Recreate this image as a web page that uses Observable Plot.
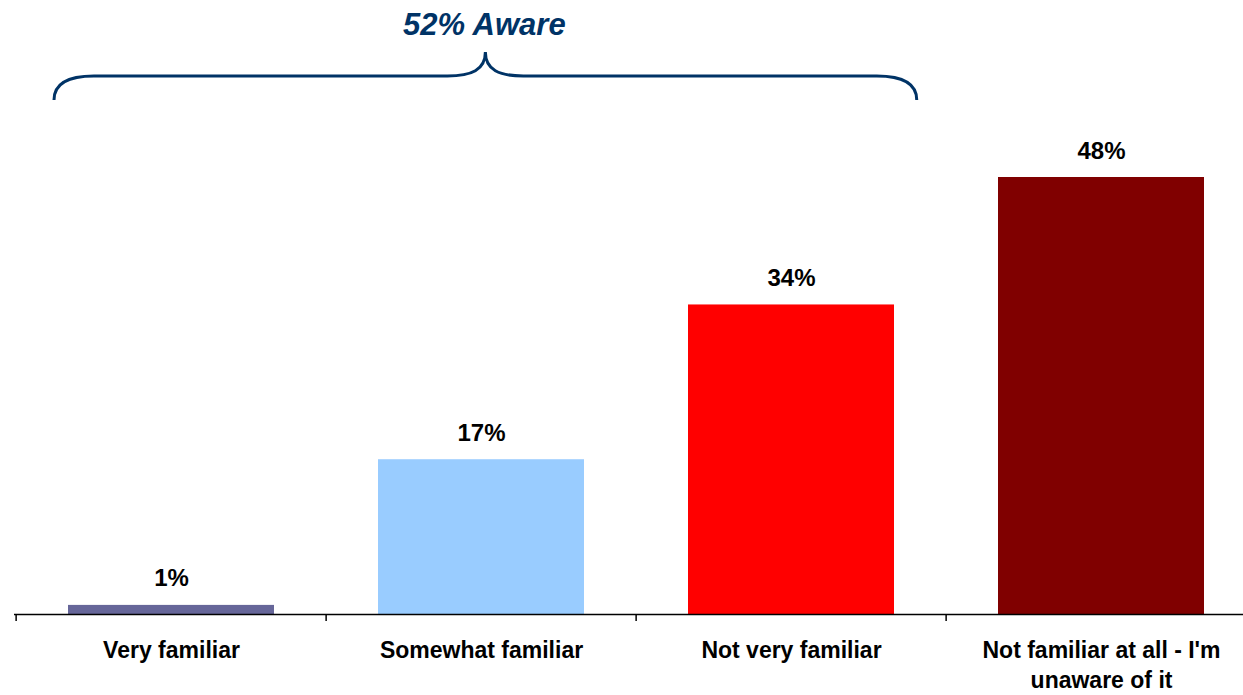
<!DOCTYPE html>
<html>
<head>
<meta charset="utf-8">
<script src="https://cdn.jsdelivr.net/npm/d3@7"></script>
<script src="https://cdn.jsdelivr.net/npm/@observablehq/plot@0.6"></script>
<style>
  html, body { margin: 0; padding: 0; background: #fff; }
  #chart svg { display: block; }
</style>
</head>
<body>
<div id="chart"></div>
<script>
const categories = ["Very familiar", "Somewhat familiar", "Not very familiar", "Not familiar at all - I'm unaware of it"];
const tickLabels = ["Very familiar", "Somewhat familiar", "Not very familiar", "Not familiar at all - I'm\nunaware of it"];
const values = [1, 17, 34, 48];
const colors = ["#666699", "#99CCFF", "#FF0000", "#800000"];
const awareLabel = "52% Aware";

const data = categories.map((c, i) => ({cat: c, label: tickLabels[i], value: values[i], color: colors[i]}));

const W = 1243, H = 695;
const xRange = [14, 1257];
const step = (xRange[1] - xRange[0]) / categories.length;
const font = "Arial, 'Liberation Sans', sans-serif";

function brace(index, scales, values, dimensions) {
  const x = scales.x;
  const x0 = x(categories[0]) + 38;
  const x1 = x(categories[2]) + step - 30;
  const tip = (x0 + x1) / 2;
  const yl = 76, yt = 52, ye = 100;
  const g = d3.create("svg:g");
  const p = `M${x0},${ye} C${x0},${yl+8} ${x0+14},${yl} ${x0+40},${yl} L${tip-38},${yl} C${tip-14},${yl} ${tip},${yl-6} ${tip},${yt} C${tip},${yl-6} ${tip+14},${yl} ${tip+38},${yl} L${x1-40},${yl} C${x1-14},${yl} ${x1},${yl+8} ${x1},${ye}`;
  g.append("path").attr("d", p).attr("fill", "none").attr("stroke", "#003366").attr("stroke-width", 3);
  g.append("text").attr("x", tip - 1).attr("y", 35).attr("text-anchor", "middle")
    .attr("font-family", font).attr("font-weight", "bold").attr("font-style", "italic")
    .attr("font-size", 31).attr("fill", "#003366").text(awareLabel);
  return g.node();
}

const chart = Plot.plot({
  width: W,
  height: H,
  marginLeft: 14,
  marginRight: 0,
  marginTop: 0,
  marginBottom: 0,
  style: {background: "transparent", fontFamily: font},
  x: {domain: categories, range: xRange, padding: 0, axis: null},
  y: {domain: [0, 48], range: [614, 177], axis: null},
  marks: [
    Plot.barY(data, {x: "cat", y: "value", fill: "color", insetLeft: 52, insetRight: 52}),
    Plot.ruleY([0], {stroke: "#000", strokeWidth: 1.5}),
    Plot.ruleX(data, {x: "cat", y1: 0, y2: 0, dx: -step / 2, insetBottom: -7, stroke: "#000", strokeWidth: 1.5}),
    Plot.text(data, {x: "cat", y: "value", text: d => d.value + "%", lineAnchor: "bottom", dy: -19,
      fontSize: 24, fontWeight: "bold", fill: "#000"}),
    Plot.text(data, {x: "cat", y: 0, text: "label", lineAnchor: "top", dy: 22, lineHeight: 1.3,
      fontSize: 23, fontWeight: "bold", fill: "#000"}),
    brace
  ]
});
document.getElementById("chart").appendChild(chart);
</script>
</body>
</html>
